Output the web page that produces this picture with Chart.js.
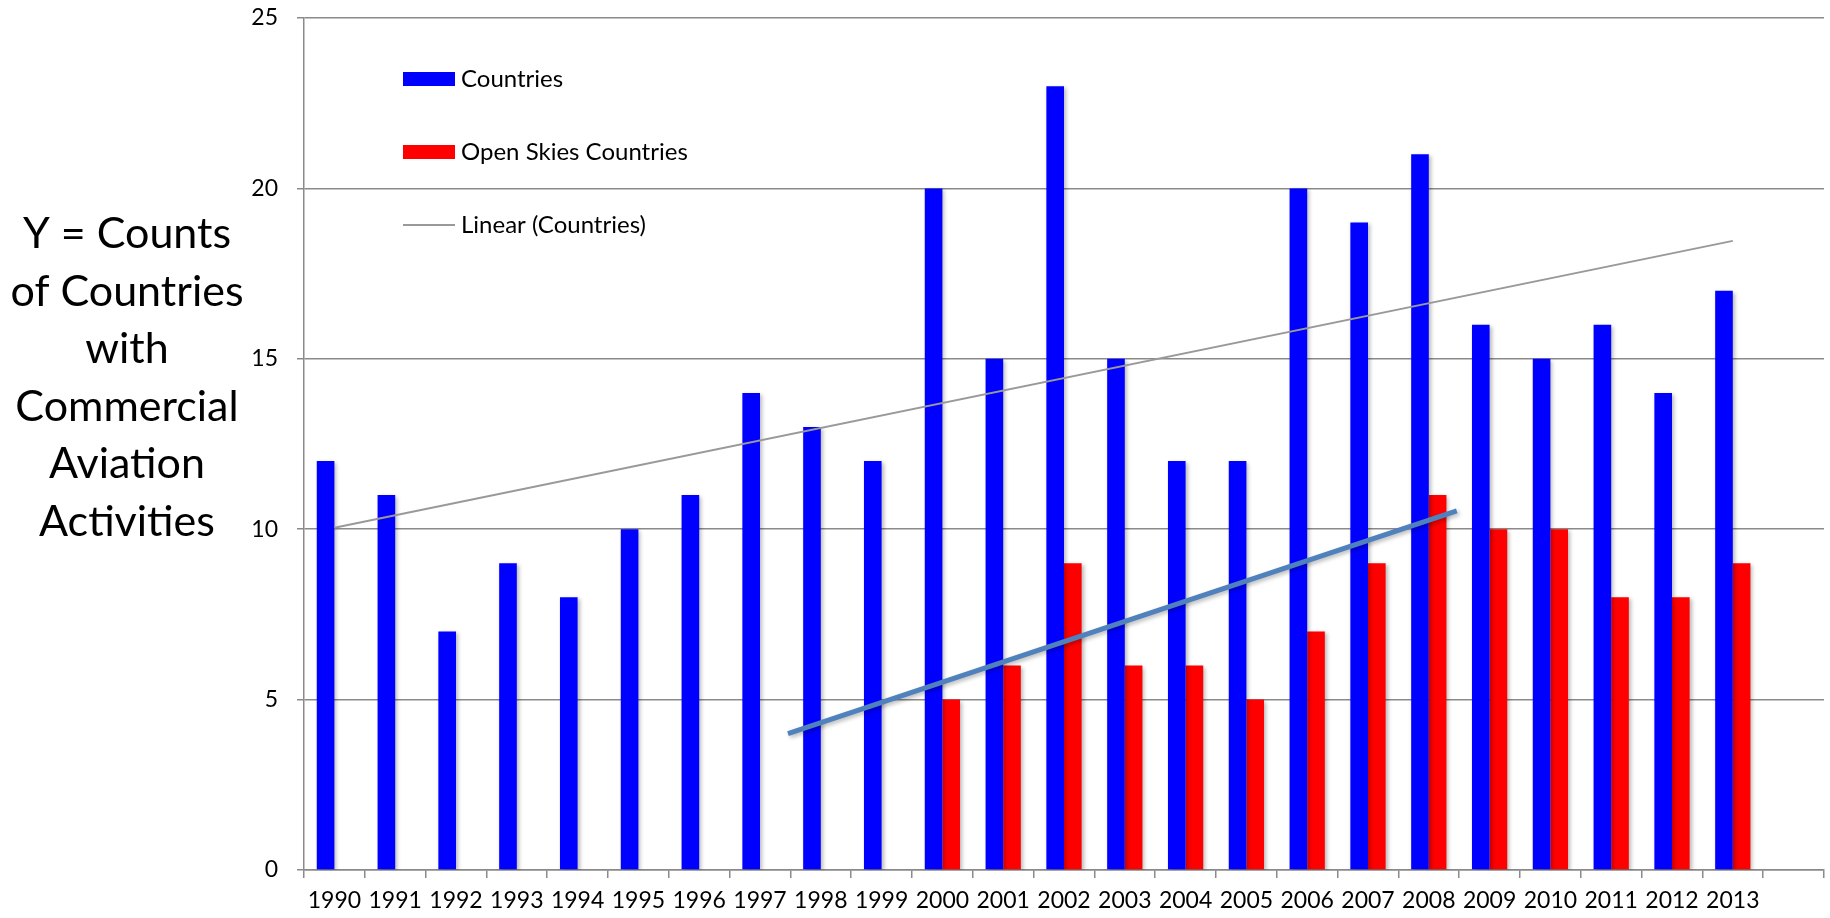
<!DOCTYPE html>
<html>
<head>
<meta charset="utf-8">
<script src="https://cdn.jsdelivr.net/npm/chart.js@4.4.0/dist/chart.umd.min.js"></script>
<style>
  html, body { margin: 0; padding: 0; background: #fff; }
  #wrap { width: 1830px; height: 918px; }
</style>
</head>
<body>
<div id="wrap"><canvas id="aviationChart" width="1830" height="918"></canvas></div>
<script>
const years = ['1990', '1991', '1992', '1993', '1994', '1995', '1996', '1997', '1998', '1999',
  '2000', '2001', '2002', '2003', '2004', '2005', '2006', '2007', '2008', '2009',
  '2010', '2011', '2012', '2013', ''];

const countries = [12, 11, 7, 9, 8, 10, 11, 14, 13, 12, 20, 15, 23, 15, 12, 12, 20, 19, 21, 16, 15, 16, 14, 17];
const openSkies = [null, null, null, null, null, null, null, null, null, null,
  5, 6, 9, 6, 6, 5, 7, 9, 11, 10, 10, 8, 8, 9];

// Linear (Countries) trendline, end points
const trendYears = [1990, 2013];
const trendValues = [10.04, 18.46];

// hand-drawn rising line over the open skies bars
const arrowYears = [1997.46, 2008.46];
const arrowValues = [4.0, 10.54];

const yTicks = [0, 5, 10, 15, 20, 25];
const yTitleLines = ['Y = Counts', 'of Countries', 'with', 'Commercial', 'Aviation', 'Activities'];

const FONT = 'Lato, "Open Sans", sans-serif';
const GRID = '#8a8a8a';

// year -> (fractional) category index, so lines share the bar axis
const firstYear = Number(years[0]);
const toPoints = (xs, ys) => xs.map((yr, i) => ({ x: yr - firstYear, y: ys[i] }));

// soft drop shadow, like the office chart style
const shadowPlugin = {
  id: 'shadow',
  beforeDatasetDraw(chart, args) {
    const ds = chart.data.datasets[args.index];
    if (!ds.shadow) return;
    const ctx = chart.ctx;
    ctx.save();
    ctx.shadowColor = 'rgba(0,0,0,0.28)';
    ctx.shadowBlur = 4;
    ctx.shadowOffsetX = 2;
    ctx.shadowOffsetY = 2;
  },
  afterDatasetDraw(chart, args) {
    if (chart.data.datasets[args.index].shadow) chart.ctx.restore();
  }
};

// legend inside the plot + horizontal y-axis caption
const labelsPlugin = {
  id: 'labels',
  afterDraw(chart) {
    const ctx = chart.ctx;
    ctx.save();
    ctx.textAlign = 'left';
    ctx.textBaseline = 'middle';
    ctx.font = '24px ' + FONT;
    const items = chart.data.datasets.filter(d => d.legend);
    items.forEach((d, i) => {
      const y = 79 + i * 73;
      if (d.type === 'line') {
        ctx.strokeStyle = d.borderColor;
        ctx.lineWidth = 2;
        ctx.beginPath();
        ctx.moveTo(403, y);
        ctx.lineTo(455, y);
        ctx.stroke();
      } else {
        ctx.fillStyle = d.backgroundColor;
        ctx.fillRect(403, y - 7, 52, 14);
      }
      ctx.fillStyle = '#000';
      ctx.fillText(d.label, 461, y);
    });

    ctx.fillStyle = '#000';
    ctx.textAlign = 'center';
    ctx.textBaseline = 'alphabetic';
    ctx.font = '43px ' + FONT;
    yTitleLines.forEach((line, i) => {
      ctx.fillText(line, 127, 248 + i * 57.5);
    });
    ctx.restore();
  }
};

new Chart(document.getElementById('aviationChart'), {
  type: 'bar',
  data: {
    labels: years,
    datasets: [
      {
        label: 'Countries',
        data: countries,
        backgroundColor: '#0000ff',
        legend: true,
        shadow: true
      },
      {
        label: 'Open Skies Countries',
        data: openSkies,
        backgroundColor: '#ff0000',
        legend: true,
        shadow: true
      },
      {
        type: 'line',
        label: 'Linear (Countries)',
        parsing: false,
        data: toPoints(trendYears, trendValues),
        borderColor: '#999999',
        borderWidth: 2,
        pointRadius: 0,
        legend: true,
        order: -1
      },
      {
        type: 'line',
        label: 'trend',
        parsing: false,
        data: toPoints(arrowYears, arrowValues),
        borderColor: '#4f81bd',
        borderWidth: 5,
        pointRadius: 0,
        shadow: true,
        order: -2
      }
    ]
  },
  options: {
    responsive: false,
    animation: false,
    layout: { padding: { top: 18, right: 6, left: 0, bottom: 0 } },
    datasets: {
      bar: { categoryPercentage: 0.58, barPercentage: 1 }
    },
    plugins: {
      legend: { display: false },
      tooltip: { enabled: false }
    },
    scales: {
      x: {
        type: 'category',
        offset: true,
        grid: {
          offset: true,
          drawOnChartArea: false,
          drawTicks: true,
          tickLength: 8,
          color: GRID,
          lineWidth: 1.5
        },
        border: { color: GRID, width: 1.5 },
        ticks: {
          color: '#000',
          font: { family: FONT, size: 23 },
          padding: 9,
          maxRotation: 0,
          autoSkip: false
        },
        afterFit(scale) { scale.height = 48; }
      },
      y: {
        min: 0,
        max: 25,
        afterBuildTicks(scale) { scale.ticks = yTicks.map(v => ({ value: v })); },
        grid: {
          color: GRID,
          lineWidth: 1.5,
          tickLength: 7
        },
        border: { color: GRID, width: 1.5 },
        ticks: {
          color: '#000',
          font: { family: FONT, size: 23 },
          padding: 19
        },
        afterFit(scale) {
          scale.width = 304;
          scale.paddingTop = 0;
          scale.paddingBottom = 0;
        }
      }
    }
  },
  plugins: [shadowPlugin, labelsPlugin]
});
</script>
</body>
</html>
